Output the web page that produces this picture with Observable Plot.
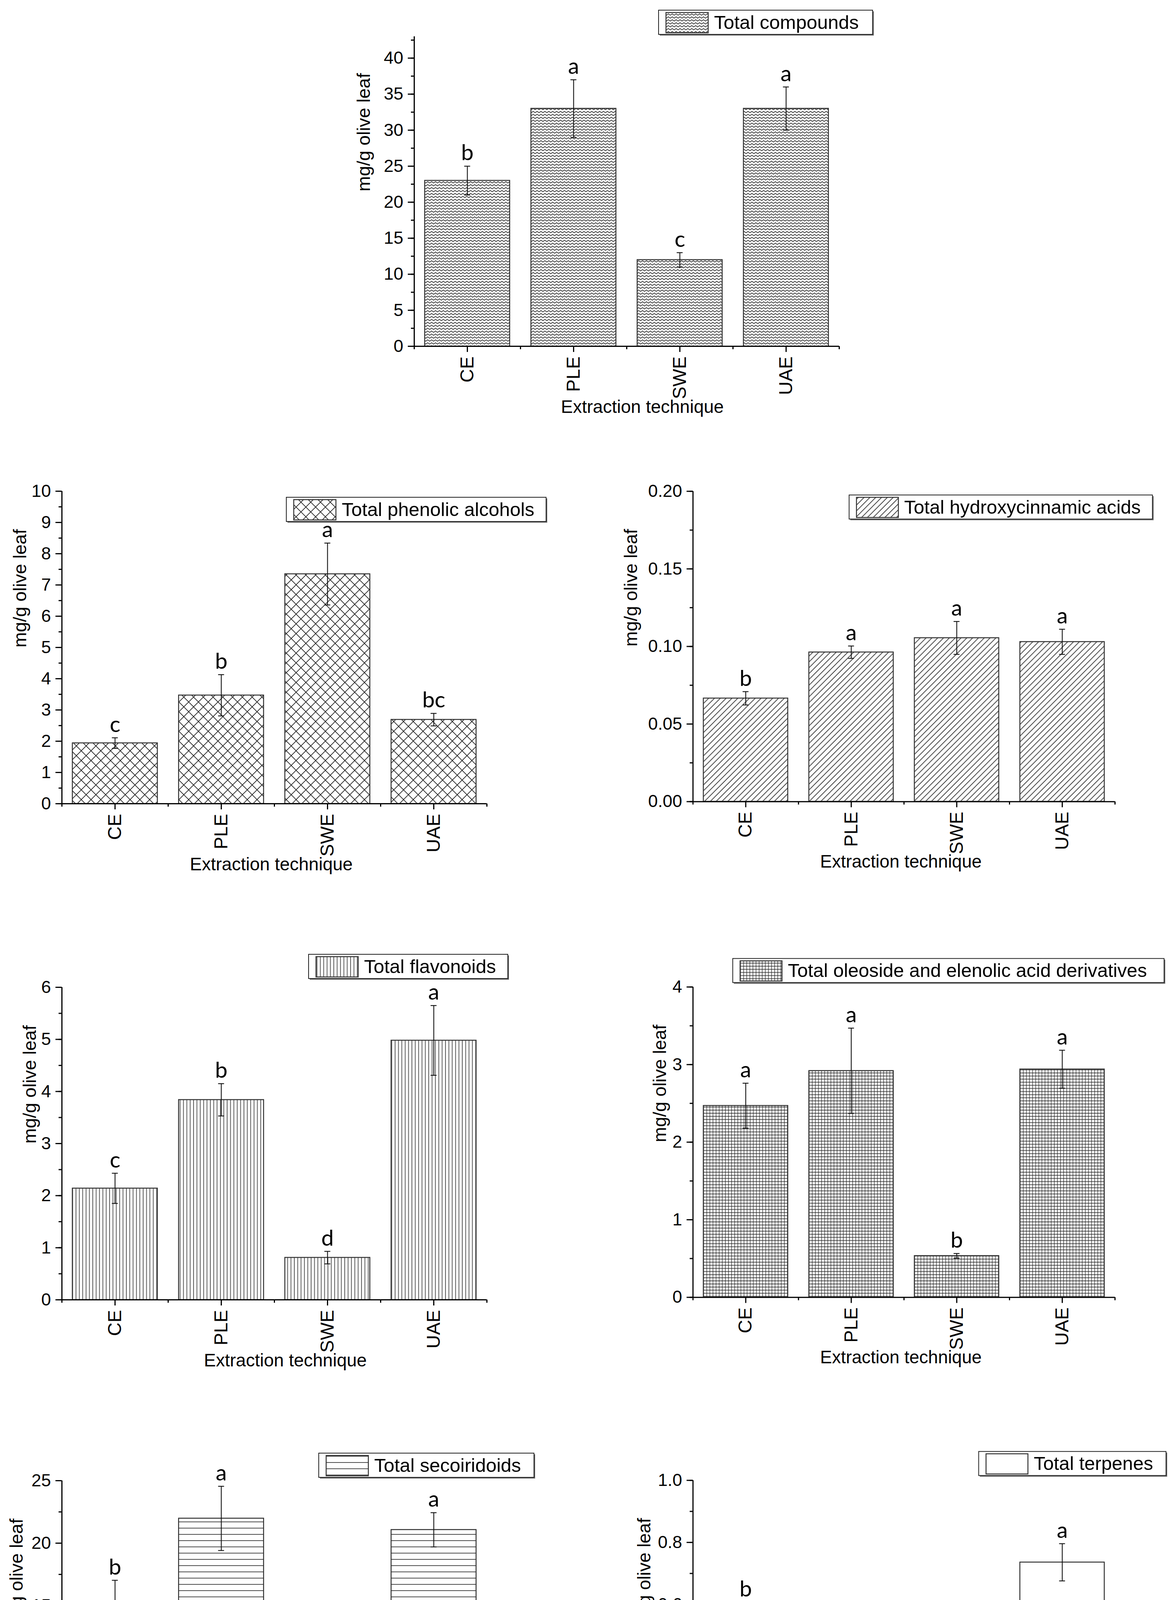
<!DOCTYPE html>
<html><head><meta charset="utf-8">
<script src="https://cdn.jsdelivr.net/npm/d3@7"></script>
<script src="https://cdn.jsdelivr.net/npm/@observablehq/plot@0.6"></script>
<style>
html,body{margin:0;padding:0;background:#fff;}
#page{position:relative;width:3003px;height:4787px;overflow:hidden;background:#fff;}
.chart{position:absolute;}
</style></head><body><div id="page"></div>
<script>
// ---------- data ----------
const categories = ["CE", "PLE", "SWE", "UAE"];

const compoundsValues  = [23, 33, 12, 33];
const compoundsErrors  = [2, 4, 1, 3];
const compoundsLetters = ["b", "a", "c", "a"];
const compoundsTicks   = [0, 5, 10, 15, 20, 25, 30, 35, 40];

const phenolicValues  = [1.94, 3.47, 7.35, 2.69];
const phenolicErrors  = [0.17, 0.66, 0.99, 0.20];
const phenolicLetters = ["c", "b", "a", "bc"];
const phenolicTicks   = [0, 1, 2, 3, 4, 5, 6, 7, 8, 9, 10];

const hydroxyValues  = [0.0666, 0.0963, 0.1055, 0.1030];
const hydroxyErrors  = [0.0043, 0.0040, 0.0106, 0.0081];
const hydroxyLetters = ["b", "a", "a", "a"];
const hydroxyTicks   = [0, 0.05, 0.10, 0.15, 0.20];

const flavonoidValues  = [2.14, 3.84, 0.81, 4.98];
const flavonoidErrors  = [0.29, 0.31, 0.12, 0.67];
const flavonoidLetters = ["c", "b", "d", "a"];
const flavonoidTicks   = [0, 1, 2, 3, 4, 5, 6];

const oleosideValues  = [2.47, 2.92, 0.535, 2.94];
const oleosideErrors  = [0.29, 0.55, 0.03, 0.245];
const oleosideLetters = ["a", "a", "b", "a"];
const oleosideTicks   = [0, 1, 2, 3, 4];

const secoValues  = [15.37, 21.98, 2.74, 21.07];
const secoErrors  = [1.66, 2.57, 0.23, 1.37];
const secoLetters = ["b", "a", "c", "a"];
const secoTicks   = [0, 5, 10, 15, 20, 25];

const terpeneValues  = [0.544, 0.395, 0.221, 0.736];
const terpeneErrors  = [0.063, 0.079, 0.042, 0.060];
const terpeneLetters = ["b", "b", "c", "a"];
const terpeneTicks   = [0, 0.2, 0.4, 0.6, 0.8, 1.0];

const yLabel = "mg/g olive leaf";
const xLabel = "Extraction technique";

// ---------- layout ----------
const ML = 200, MR = 150, MT = 110, MB = 210, PW = 1088, PH = 800;
const charts = [
  {id: "c0", legend: "Total compounds", values: compoundsValues, errors: compoundsErrors, letters: compoundsLetters,
   ticks: compoundsTicks, top: 43, minor: 2.5, fmt: d => String(d), pattern: "zigzag",
   ax: 1060, ty: 93, ph: 793, ylDx: -129, xlDx: 40, lg: [1686, 26, 548]},
  {id: "c1", legend: "Total phenolic alcohols", values: phenolicValues, errors: phenolicErrors, letters: phenolicLetters,
   ticks: phenolicTicks, top: 10, minor: 0.5, fmt: d => String(d), pattern: "cross",
   ax: 158, ty: 1257, ph: PH, ylDx: -107, xlDx: -8, lg: [733, 1273, 665]},
  {id: "c2", legend: "Total hydroxycinnamic acids", values: hydroxyValues, errors: hydroxyErrors, letters: hydroxyLetters,
   ticks: hydroxyTicks, top: 0.2, minor: 0.025, fmt: d3.format(".2f"), pattern: "diag",
   ax: 1775, ty: 1258, ph: PH, ylDx: -159, xlDx: -8, lg: [2178, 1268, 782]},
  {id: "c3", legend: "Total flavonoids", values: flavonoidValues, errors: flavonoidErrors, letters: flavonoidLetters,
   ticks: flavonoidTicks, top: 6, minor: 0.5, fmt: d => String(d), pattern: "vert",
   ax: 158, ty: 2527, ph: PH, ylDx: -82, xlDx: 28, lg: [790, 2443, 510]},
  {id: "c4", legend: "Total oleoside and elenolic acid derivatives", values: oleosideValues, errors: oleosideErrors, letters: oleosideLetters,
   ticks: oleosideTicks, top: 4, minor: 0.5, fmt: d => String(d), pattern: "grid",
   ax: 1775, ty: 2527, ph: PH, ylDx: -85, xlDx: -8, lg: [1878, 2454, 1112]},
  {id: "c5", legend: "Total secoiridoids", values: secoValues, errors: secoErrors, letters: secoLetters,
   ticks: secoTicks, top: 25, minor: 2.5, fmt: d => String(d), pattern: "horiz",
   ax: 158, ty: 3790, ph: PH, ylDx: -116, xlDx: -8, lg: [816, 3720, 551]},
  {id: "c6", legend: "Total terpenes", values: terpeneValues, errors: terpeneErrors, letters: terpeneLetters,
   ticks: terpeneTicks, top: 1.0, minor: 0.1, fmt: d3.format(".1f"), pattern: "none",
   ax: 1775, ty: 3790, ph: PH, ylDx: -125, xlDx: -8, lg: [2512, 3716, 483]}
];

const patterns = {
  zigzag: {w: 10, h: 7.5, d: "M0,5.6L5,1.9L10,5.6", sw: 1.7, c: "#222"},
  cross:  {w: 25, h: 25, d: "M0,0L25,25M25,0L0,25", sw: 1.7, c: "#222"},
  diag:   {w: 15, h: 15, d: "M0,15L15,0M-3,3L3,-3M12,18L18,12", sw: 1.6, c: "#222"},
  vert:   {w: 8.6, h: 10, d: "M4.3,0V10", sw: 1.5, c: "#222"},
  grid:   {w: 8, h: 8, d: "M4,0V8M0,4H8", sw: 1.3, c: "#222"},
  horiz:  {w: 10, h: 16, d: "M0,8H10", sw: 1.6, c: "#222"}
};

const FONT = "'Liberation Sans', Arial, Helvetica, sans-serif";
const page = document.getElementById("page");

for (const c of charts) {
  const rows = categories.map((cat, i) => ({i, cat, value: c.values[i], err: c.errors[i], letter: c.letters[i]}));
  const minorTicks = d3.range(0, c.top + 1e-9, c.minor).map(v => +v.toFixed(4));
  const fill = c.pattern === "none" ? "white" : `url(#pat-${c.id})`;
  const ph = c.ph;
  const svg = Plot.plot({
    width: ML + PW + MR,
    height: MT + ph + MB,
    marginLeft: ML, marginRight: MR, marginTop: MT, marginBottom: MB,
    style: {fontFamily: FONT, background: "transparent", color: "#000", overflow: "visible"},
    x: {type: "linear", domain: [-0.5, 3.5], label: null},
    y: {type: "linear", domain: [0, c.top], label: null},
    marks: [
      Plot.rectY(rows, {x1: d => d.i - 0.4, x2: d => d.i + 0.4, y: "value", fill, stroke: "#333", strokeWidth: 2.5}),
      Plot.ruleX(rows, {x: "i", y1: d => d.value - d.err, y2: d => d.value + d.err, stroke: "#111", strokeWidth: 2.2}),
      Plot.ruleY(rows, {y: d => d.value + d.err, x1: d => d.i - 0.028, x2: d => d.i + 0.028, stroke: "#111", strokeWidth: 2.2}),
      Plot.ruleY(rows, {y: d => d.value - d.err, x1: d => d.i - 0.028, x2: d => d.i + 0.028, stroke: "#111", strokeWidth: 2.2}),
      Plot.text(rows, {x: "i", y: d => d.value + d.err, text: "letter", dy: -15, lineAnchor: "bottom",
        fontFamily: "Lato, 'Open Sans', sans-serif", fontSize: 57, fill: "#000"}),
      Plot.ruleX([-0.5], {stroke: "#000", strokeWidth: 3}),
      Plot.ruleY([0], {stroke: "#000", strokeWidth: 3}),
      Plot.axisY(minorTicks, {anchor: "left", tickSize: 8, tickFormat: () => "", strokeWidth: 3, label: null}),
      Plot.axisY(c.ticks, {anchor: "left", tickSize: 16, tickPadding: 12, tickFormat: c.fmt, fontSize: 45, strokeWidth: 3, label: null}),
      Plot.axisX([-0.5, 0.5, 1.5, 2.5, 3.5], {anchor: "bottom", tickSize: 8, tickFormat: () => "", strokeWidth: 3, label: null}),
      Plot.axisX([0, 1, 2, 3], {anchor: "bottom", tickSize: 15, tickFormat: () => "", strokeWidth: 3, label: null}),
      Plot.text(rows, {x: "i", text: "cat", frameAnchor: "bottom", dy: 26, rotate: -90, textAnchor: "end",
        lineAnchor: "middle", fontSize: 48, fill: "#000"}),
      Plot.text([yLabel], {text: d => d, frameAnchor: "left", dx: c.ylDx, rotate: -90, fontSize: 47, fill: "#000"}),
      Plot.text([xLabel], {text: d => d, frameAnchor: "bottom", dy: 170, dx: c.xlDx, lineAnchor: "bottom", fontSize: 46, fill: "#000"})
    ]
  });

  const sel = d3.select(svg);
  const defs = sel.insert("defs", ":first-child");
  if (c.pattern !== "none") {
    const p = patterns[c.pattern];
    const pat = defs.append("pattern").attr("id", `pat-${c.id}`).attr("patternUnits", "userSpaceOnUse")
      .attr("width", p.w).attr("height", p.h);
    pat.append("rect").attr("width", p.w).attr("height", p.h).attr("fill", "white");
    pat.append("path").attr("d", p.d).attr("stroke", p.c).attr("stroke-width", p.sw).attr("fill", "none");
  }

  // legend
  const svgLeft = c.ax - ML, svgTop = c.ty - MT;
  const [lx, ly, lw] = c.lg;
  const g = sel.append("g").attr("transform", `translate(${lx - svgLeft},${ly - svgTop})`)
    .attr("text-anchor", "start");
  g.append("rect").attr("x", 3).attr("y", 3).attr("width", lw).attr("height", 62).attr("fill", "#666");
  g.append("rect").attr("width", lw).attr("height", 62).attr("fill", "white").attr("stroke", "#222").attr("stroke-width", 2);
  g.append("rect").attr("x", 19).attr("y", 6).attr("width", 108).attr("height", 52)
    .attr("fill", fill).attr("stroke", "#333").attr("stroke-width", 2.5);
  g.append("text").attr("x", 142).attr("y", 48).attr("font-size", 49).attr("font-family", FONT)
    .attr("text-anchor", "start").attr("fill", "#000").text(c.legend);

  const div = document.createElement("div");
  div.className = "chart";
  div.style.left = svgLeft + "px";
  div.style.top = svgTop + "px";
  div.appendChild(svg);
  page.appendChild(div);
}
</script>
</body></html>
